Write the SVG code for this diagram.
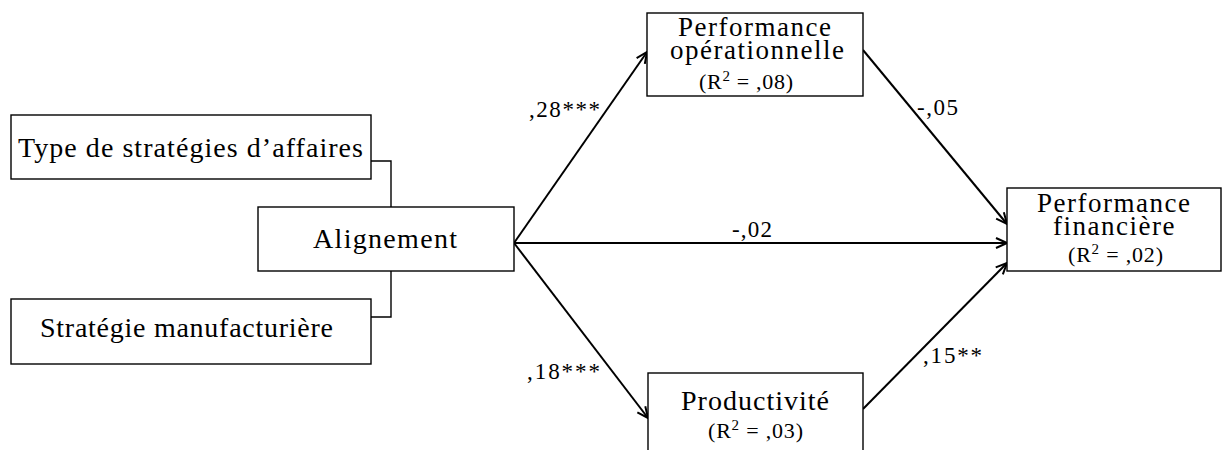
<svg xmlns="http://www.w3.org/2000/svg" width="1222" height="450" viewBox="0 0 1222 450">
<style>
.box{fill:#fff;stroke:#000;stroke-width:1.4}
.t{font-family:"Liberation Serif","Times New Roman",serif;font-size:28px;fill:#000}
.t2{font-family:"Liberation Serif","Times New Roman",serif;font-size:27px;fill:#000;letter-spacing:1.5px}
.r{font-family:"Liberation Serif","Times New Roman",serif;font-size:22px;fill:#000}
.l{font-family:"Liberation Serif","Times New Roman",serif;font-size:23px;fill:#000}
.link{fill:none;stroke:#000;stroke-width:1.4}
.arr{fill:none;stroke:#000;stroke-width:2;marker-end:url(#ah)}
</style>
<defs>
<marker id="ah" markerUnits="userSpaceOnUse" markerWidth="16" markerHeight="16" viewBox="0 0 16 16" refX="14" refY="8" orient="auto">
<path d="M3,3 L14,8 L3,13" fill="none" stroke="#000" stroke-width="2"/>
</marker>
</defs>
<rect width="1222" height="450" fill="#fff"/>
<g id="connectors">
<polyline class="link" points="371,161 391,161 391,207"/>
<polyline class="link" points="391,271 391,317 371,317"/>
<line class="arr" x1="514" y1="243" x2="647" y2="52"/>
<line class="arr" x1="514" y1="243" x2="1007" y2="243"/>
<line class="arr" x1="514" y1="243" x2="648" y2="418"/>
<line class="arr" x1="863" y1="50" x2="1007" y2="224"/>
<line class="arr" x1="863" y1="409" x2="1007" y2="263"/>
<text class="l" x="529" y="117" textLength="71" lengthAdjust="spacing">,28***</text>
<text class="l" x="527" y="379" textLength="73" lengthAdjust="spacing">,18***</text>
<text class="l" x="732" y="237" textLength="40" lengthAdjust="spacing">-,02</text>
<text class="l" x="917" y="115" textLength="41" lengthAdjust="spacing">-,05</text>
<text class="l" x="923" y="363" textLength="59" lengthAdjust="spacing">,15**</text>
</g>
<g id="type">
<rect class="box" x="11" y="115" width="360" height="64"/>
<text class="t" x="18" y="157" textLength="345" lengthAdjust="spacing">Type de stratégies d’affaires</text>
</g>
<g id="alignement">
<rect class="box" x="258" y="207" width="256" height="64"/>
<text class="t" x="313" y="248" textLength="144" lengthAdjust="spacing">Alignement</text>
</g>
<g id="manufacturiere">
<rect class="box" x="11" y="299" width="360" height="65"/>
<text class="t" x="40" y="337" textLength="293" lengthAdjust="spacing">Stratégie manufacturière</text>
</g>
<g id="perf-op">
<rect class="box" x="647" y="13" width="216" height="83"/>
<text class="t2"><tspan x="678" y="36">Performance</tspan><tspan x="670" y="59">opérationnelle</tspan></text>
<text class="r" x="699" y="89" textLength="94" lengthAdjust="spacing">(R<tspan font-size="15" dy="-8">2</tspan><tspan dy="8"> = ,08)</tspan></text>
</g>
<g id="perf-fin">
<rect class="box" x="1007" y="188" width="214" height="83"/>
<text class="t2"><tspan x="1037" y="212">Performance</tspan><tspan x="1053" y="235">financière</tspan></text>
<text class="r" x="1068" y="262" textLength="95" lengthAdjust="spacing">(R<tspan font-size="15" dy="-8">2</tspan><tspan dy="8"> = ,02)</tspan></text>
</g>
<g id="productivite">
<rect class="box" x="648" y="373" width="215" height="100"/>
<text class="t" x="681" y="410" textLength="148" lengthAdjust="spacing">Productivité</text>
<text class="r" x="708" y="438" textLength="95" lengthAdjust="spacing">(R<tspan font-size="15" dy="-8">2</tspan><tspan dy="8"> = ,03)</tspan></text>
</g>
</svg>
